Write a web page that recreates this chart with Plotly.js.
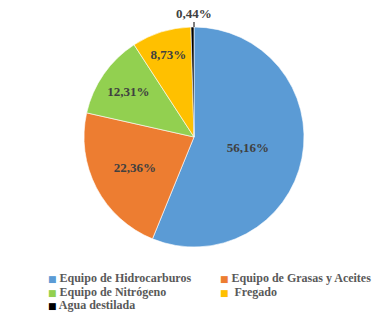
<!DOCTYPE html>
<html><head><meta charset="utf-8">
<script src="https://cdn.plot.ly/plotly-3.0.1.min.js"></script>
<style>body{margin:0;background:#fff}#c{width:392px;height:312px}</style>
</head><body><div id="c"></div>
<script>
const labels = ["Equipo de Hidrocarburos","Equipo de Grasas y Aceites","Equipo de Nitrógeno","Fregado","Agua destilada"];
const values = [56.16, 22.36, 12.31, 8.73, 0.44];
const textLabels = ["56,16%","22,36%","12,31%","8,73%","0,44%"];
const colors = ["#5B9BD5","#ED7D31","#92D050","#FFC000","#000000"];
const positions = ["inside","inside","inside","inside","none"];

const W = 392, H = 312;
const px = v => v / W, py = v => 1 - v / H;
const serif = "'Liberation Serif', 'Times New Roman', Times, serif";
const labFont = {family: serif, size: 13, color: "#404040", weight: "bold"};

// legend drawn as text annotations (two columns), built from labels/colors
const legCols = [56, 228], legRows = [278, 292, 305];
const annotations = labels.map((lab, i) => ({
  xref: "paper", yref: "paper",
  x: px(legCols[i % 2] - 10), y: py(legRows[Math.floor(i / 2)]),
  xanchor: "left", yanchor: "middle", showarrow: false,
  text: "<span style='color:" + colors[i] + ";font-size:9px;font-family:DejaVu Sans'>■</span> " + (i === 3 ? " " : "") + lab,
  font: {family: serif, size: 12, color: "#595959", weight: "bold"}
}));
// label of the tiny last slice, placed above the pie with a leader line
annotations.push({
  xref: "paper", yref: "paper", x: px(194), y: py(27),
  ax: 0, ay: -14, showarrow: true, arrowhead: 0, arrowwidth: 1, arrowcolor: "#000000",
  text: textLabels[4], font: labFont
});

Plotly.newPlot("c", [{
  type: "pie",
  labels: labels,
  values: values,
  text: textLabels,
  textinfo: "text",
  textposition: positions,
  insidetextorientation: "horizontal",
  sort: false,
  direction: "clockwise",
  rotation: 0,
  marker: {colors: colors, line: {color: "#ffffff", width: 0.6}},
  textfont: labFont,
  domain: {x: [px(84), px(304)], y: [py(247), py(27)]},
  hoverinfo: "label+percent"
}], {
  width: W, height: H,
  margin: {l: 0, r: 0, t: 0, b: 0},
  paper_bgcolor: "#ffffff",
  showlegend: false,
  annotations: annotations
}, {displayModeBar: false, staticPlot: true});
</script></body></html>
